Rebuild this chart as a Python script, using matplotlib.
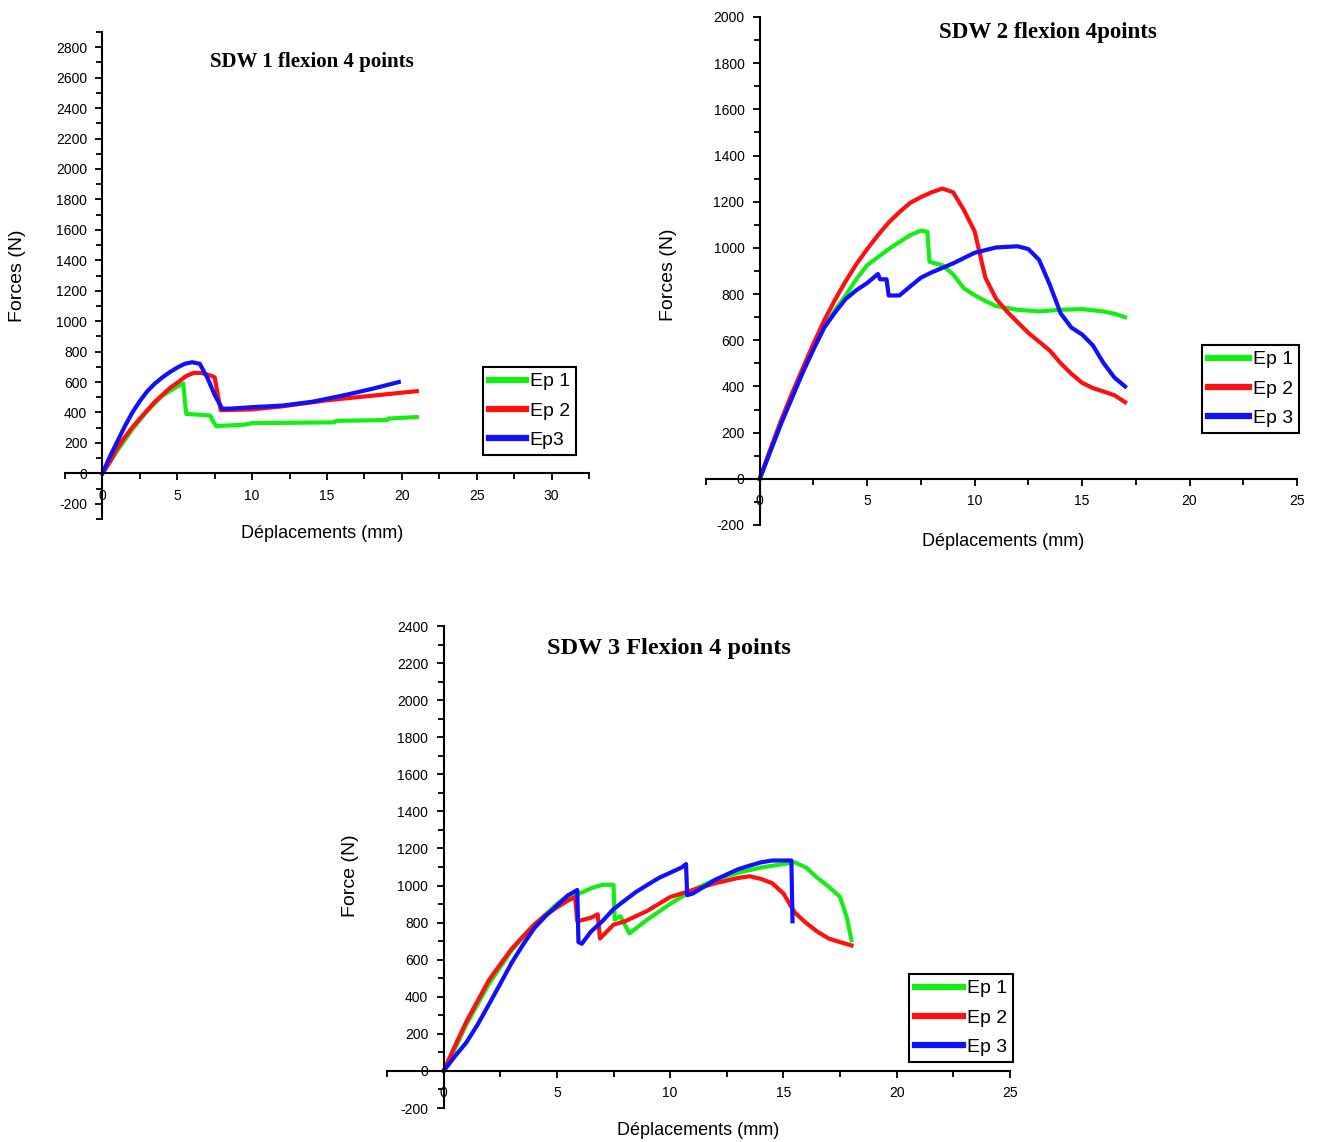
import matplotlib
matplotlib.use("Agg")
import matplotlib.pyplot as plt
from matplotlib.ticker import MultipleLocator

plt.rcParams["font.family"] = ["Liberation Sans", "DejaVu Sans"]
plt.rcParams["axes.unicode_minus"] = False

GREEN = "#14ee14"
RED = "#ff1010"
BLUE = "#1010ff"

# --- SDW 1 ---
sdw1_x1 = [0, 1, 2, 3, 4, 5, 5.4, 5.5, 5.6, 6.5, 7.2, 7.4, 7.6, 9.5, 10, 15.5, 15.6, 19, 19.1, 21]
sdw1_y1 = [0, 150, 290, 410, 510, 570, 590, 480, 390, 385, 380, 340, 310, 320, 330, 335, 345, 350, 360, 370]
sdw1_x2 = [0, 0.5, 0.9, 1.4, 1.9, 2.5, 3, 3.5, 4, 4.5, 5, 5.6, 6.1, 6.6, 7.3, 7.5, 7.7, 7.9, 10, 12, 15, 18, 21]
sdw1_y2 = [0, 75, 150, 225, 290, 360, 415, 470, 515, 560, 595, 640, 660, 660, 640, 630, 520, 415, 420, 440, 480, 510, 540]
sdw1_x3 = [0, 0.5, 1, 1.5, 2, 2.5, 3, 3.5, 4, 4.5, 5, 5.5, 6, 6.5, 7, 7.5, 8, 8.5, 10, 12, 14, 16, 18, 19.8]
sdw1_y3 = [0, 110, 210, 310, 400, 475, 540, 590, 630, 665, 695, 720, 730, 720, 630, 515, 425, 425, 435, 445, 470, 510, 555, 600]

# --- SDW 2 ---
sdw2_x1 = [0, 0.5, 1, 1.5, 2, 2.5, 3, 3.5, 4, 4.5, 5, 5.5, 6, 6.5, 7, 7.5, 7.8, 7.9, 8.5, 9, 9.5, 10, 10.5, 11, 12, 13, 14, 15, 16, 16.5, 17]
sdw2_y1 = [0, 125, 245, 360, 465, 565, 655, 730, 795, 865, 925, 960, 995, 1025, 1055, 1075, 1070, 940, 925, 885, 825, 795, 770, 748, 732, 725, 732, 735, 725, 715, 700]
sdw2_x2 = [0, 0.5, 1, 1.5, 2, 2.5, 3, 3.5, 4, 4.5, 5, 5.5, 6, 6.5, 7, 7.5, 8, 8.5, 9, 9.5, 10, 10.5, 11, 11.5, 12, 12.5, 13, 13.5, 14, 14.5, 15, 15.5, 16, 16.5, 17]
sdw2_y2 = [0, 130, 255, 370, 478, 585, 686, 775, 856, 930, 995, 1055, 1110, 1155, 1195, 1220, 1241, 1257, 1241, 1164, 1072, 871, 779, 725, 678, 632, 594, 555, 501, 455, 416, 393, 378, 362, 332]
sdw2_x3 = [0, 0.5, 1, 1.5, 2, 2.5, 3, 3.5, 4, 4.5, 5, 5.5, 5.6, 5.9, 6.0, 6.5, 7, 7.5, 8, 9, 10, 11, 12, 12.5, 13, 13.5, 14, 14.5, 15, 15.5, 16, 16.5, 17]
sdw2_y3 = [0, 120, 240, 350, 460, 560, 655, 720, 779, 817, 848, 887, 864, 864, 794, 794, 833, 871, 894, 933, 979, 1002, 1007, 995, 948, 840, 717, 655, 625, 578, 501, 439, 400]

# --- SDW 3 ---
sdw3_x1 = [0, 0.5, 1, 2, 3, 4, 5, 5.5, 6, 6.5, 7, 7.5, 7.55, 7.8, 8.2, 9, 10, 11, 12, 13, 14, 15, 15.5, 16, 16.5, 17, 17.5, 17.8, 18]
sdw3_y1 = [0, 120, 250, 470, 650, 790, 900, 948, 957, 985, 1004, 1004, 817, 835, 742, 817, 901, 976, 1032, 1069, 1097, 1116, 1125, 1097, 1041, 994, 938, 826, 705]
sdw3_x2 = [0, 0.5, 1, 1.5, 2, 2.5, 3, 3.5, 4, 4.5, 5, 5.5, 5.8, 5.9, 6.5, 6.8, 6.9, 7.5, 8, 9, 10, 11, 12, 13, 13.5, 14, 14.5, 15, 15.5, 16, 16.5, 17, 17.5, 18]
sdw3_y2 = [0, 135, 265, 378, 490, 575, 658, 725, 789, 840, 882, 920, 938, 807, 826, 845, 714, 789, 807, 864, 938, 976, 1013, 1041, 1050, 1036, 1013, 957, 854, 798, 751, 714, 695, 677]
sdw3_x3 = [0, 0.5, 1, 1.5, 2, 2.5, 3, 3.5, 4, 4.5, 5, 5.5, 5.9, 5.95, 6.1, 6.5, 7, 7.5, 8, 8.5, 9, 9.5, 10, 10.5, 10.7, 10.75, 11, 11.5, 12, 12.5, 13, 13.5, 14, 14.5, 15, 15.35, 15.4]
sdw3_y3 = [0, 79, 153, 250, 359, 470, 583, 680, 770, 835, 892, 948, 976, 695, 686, 751, 807, 873, 920, 966, 1004, 1041, 1069, 1097, 1116, 948, 957, 994, 1032, 1060, 1088, 1107, 1125, 1135, 1135, 1135, 807]

W, H = 1320, 1142
fig = plt.figure(figsize=(W / 100, H / 100), dpi=100)


def px_axes(left, top, right, bottom):
    return fig.add_axes([left / W, 1 - bottom / H, (right - left) / W, (bottom - top) / H])


def style_axes(ax, xlim, ylim, xmajor, ymajor):
    ax.set_xlim(*xlim)
    ax.set_ylim(*ylim)
    for s in ("top", "right"):
        ax.spines[s].set_visible(False)
    ax.spines["left"].set_position(("data", 0))
    ax.spines["bottom"].set_position(("data", 0))
    for s in ("left", "bottom"):
        ax.spines[s].set_linewidth(1.5)
    ax.xaxis.set_major_locator(MultipleLocator(xmajor))
    ax.xaxis.set_minor_locator(MultipleLocator(xmajor / 2))
    ax.yaxis.set_major_locator(MultipleLocator(ymajor))
    ax.yaxis.set_minor_locator(MultipleLocator(ymajor / 2))
    ax.tick_params(which="both", direction="out", width=1.3, labelsize=10, colors="black")
    ax.tick_params(which="major", length=5, pad=6)
    ax.tick_params(which="minor", length=4)
    ax.set_facecolor("none")


def add_legend(ax, labels, left, top, hl):
    leg = ax.legend(labels, loc="upper left", bbox_to_anchor=(left / W, 1 - top / H),
                    bbox_transform=fig.transFigure, fontsize=14, frameon=True,
                    fancybox=False, framealpha=1, edgecolor="black", handlelength=hl,
                    handletextpad=0.2, labelspacing=0.6, borderpad=0.3, borderaxespad=0)
    leg.get_frame().set_linewidth(1.5)
    for line in leg.get_lines():
        line.set_linewidth(4.5)


def labels(ax, title, tpos, tsize, ylab, ypos, xpos):
    ax.text(tpos[0], tpos[1], title, transform=ax.transAxes, ha="center", va="center",
            fontsize=tsize, fontweight="bold", family="Liberation Serif")
    ax.text(ypos[0], ypos[1], ylab, transform=ax.transAxes, rotation=90,
            ha="center", va="center", fontsize=14)
    ax.text(xpos[0], xpos[1], "Déplacements (mm)", transform=ax.transAxes,
            ha="center", va="center", fontsize=13)


lw = 3

# plot 1
ax1 = px_axes(65, 32, 589, 519)
style_axes(ax1, (-2.5, 32.5), (-300, 2900), 5, 200)
ax1.plot(sdw1_x1, sdw1_y1, color=GREEN, lw=lw)
ax1.plot(sdw1_x2, sdw1_y2, color=RED, lw=lw)
ax1.plot(sdw1_x3, sdw1_y3, color=BLUE, lw=lw)
labels(ax1, "SDW 1 flexion 4 points", (0.471, 0.938), 15, "Forces (N)", (-0.09, 0.50), (0.49, -0.029))
add_legend(ax1, ["Ep 1", "Ep 2", "Ep3"], 483, 367, 1.9)

# plot 2
ax2 = px_axes(706, 17, 1297, 525)
style_axes(ax2, (-2.5, 25), (-200, 2000), 5, 200)
ax2.plot(sdw2_x1, sdw2_y1, color=GREEN, lw=lw)
ax2.plot(sdw2_x2, sdw2_y2, color=RED, lw=lw)
ax2.plot(sdw2_x3, sdw2_y3, color=BLUE, lw=lw)
labels(ax2, "SDW 2 flexion 4points", (0.579, 0.970), 16.5, "Forces (N)", (-0.064, 0.492), (0.502, -0.033))
add_legend(ax2, ["Ep 1", "Ep 2", "Ep 3"], 1202, 345, 2.1)

# plot 3
ax3 = px_axes(387, 626, 1010, 1108)
style_axes(ax3, (-2.5, 25), (-200, 2400), 5, 200)
ax3.plot(sdw3_x1, sdw3_y1, color=GREEN, lw=lw)
ax3.plot(sdw3_x2, sdw3_y2, color=RED, lw=lw)
ax3.plot(sdw3_x3, sdw3_y3, color=BLUE, lw=lw)
labels(ax3, "SDW 3 Flexion 4 points", (0.453, 0.954), 17.5, "Force (N)", (-0.059, 0.483), (0.50, -0.046))
add_legend(ax3, ["Ep 1", "Ep 2", "Ep 3"], 909, 974, 2.5)

fig.savefig("out.png", dpi=100)
